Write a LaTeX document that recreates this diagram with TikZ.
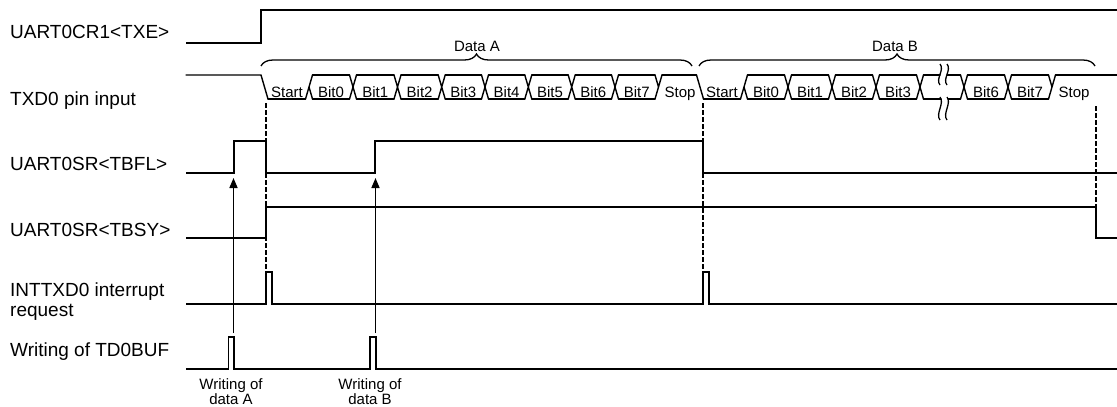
\documentclass[tikz,border=0pt]{standalone}
\usepackage{fontspec}
\setmainfont{Liberation Sans}
\usetikzlibrary{decorations.pathreplacing,arrows.meta}
\begin{document}
\begin{tikzpicture}[x=1pt,y=-1pt,
  sig/.style={line width=1.8pt},
  bus/.style={line width=1.4pt, line cap=round},
  brk/.style={line width=1.3pt},
  guide/.style={line width=1.4pt, dash pattern=on 4.5pt off 2.5pt},
  lbl/.style={font=\fontsize{19}{20}\selectfont, anchor=base west, inner sep=0pt},
  bitlbl/.style={font=\fontsize{15}{16}\selectfont, anchor=base, inner sep=0pt},
  wlbl/.style={font=\fontsize{15}{15}\selectfont, anchor=base, inner sep=0pt},
  arr/.style={line width=1.6pt, -{Triangle[length=10pt,width=8pt]}},
  brc/.style={line width=1.3pt, decorate, decoration={brace, amplitude=12pt}}
]
\useasboundingbox (0,0) rectangle (1117,407);

% signal names
\node[lbl] (lTXE) at (10,38) {UART0CR1<TXE>};
\node[lbl] (lTXD) at (10,105) {TXD0 pin input};
\node[lbl] (lTBFL) at (10,170) {UART0SR<TBFL>};
\node[lbl] (lTBSY) at (10,236.5) {UART0SR<TBSY>};
\node[lbl] (lINT1) at (10,296.5) {INTTXD0 interrupt};
\node[lbl] (lINT2) at (10,316.5) {request};
\node[lbl] (lBUF) at (10,356.5) {Writing of TD0BUF};

% simple waveforms
\draw[sig] (186,43) -- (261,43) -- (261,10) -- (1117,10);
\draw[sig] (186,173) -| (234,141) -| (266,173) -| (375,141) -| (703,173) -- (1117,173);
\draw[sig] (186,238) -| (266,207) -| (1096,238) -- (1117,238);
\draw[sig] (186,304) -| (266,272) -| (272,304) -| (703,272) -| (709,304) -- (1117,304);
\draw[sig] (186,369) -| (228.5,337) -| (234,369) -| (370,337) -| (376,369) -- (1117,369);

% TXD0 bus: idle and falling edges
\draw[bus] (186,75) -- (261,75) -- (268,99);
\draw[bus] (696.5,75) -- (703.5,99);
\draw[bus] (1055.5,75) -- (1117,75);
% top lines
\foreach \a/\b in {309/353,353/397.5,397.5/441.7,441.7/485,485/528.3,528.3/571.7,571.7/615,615/658.5,658.5/700,
                   744/788,788/832,832/876,876/920,964/1008,1008/1052}
  \draw[bus] (\a+3.5,75) -- (\b-3.5,75);
% bottom lines
\foreach \a/\b in {264.5/309,309/353,353/397.5,397.5/441.7,441.7/485,485/528.3,528.3/571.7,571.7/615,615/658.5,
                   700/744,744/788,788/832,832/876,876/920,964/1008,1008/1052}
  \draw[bus] (\a+3.5,99) -- (\b-3.5,99);
% full crossings
\foreach \c in {353,397.5,441.7,485,528.3,571.7,615,788,832,876,920,964,1008}
  \draw[bus] (\c-3.5,75) -- (\c+3.5,99) (\c-3.5,99) -- (\c+3.5,75);
% start bit to bit0
\foreach \c in {309,744}
  \draw[bus] (\c-3.5,99) -- (\c+3.5,75) (\c,87) -- (\c+3.5,99);
% bit7 to stop bit
\foreach \c in {658.5,1052}
  \draw[bus] (\c-3.5,99) -- (\c+3.5,75) (\c-3.5,75) -- (\c,87);
% omitted bits (break)
\draw[bus] (923.5,75) -- (940,75) (947,75) -- (960.5,75);
\draw[bus] (923.5,99) -- (941,99) (948,99) -- (960.5,99);
\foreach \x in {940,947} {
  \draw[brk] (\x,64) .. controls (\x+5,70) and (\x-5,79) .. (\x,85);
  \draw[brk] (\x,97) .. controls (\x+5,103) and (\x-5,114) .. (\x,120);
}

% bit labels
\foreach \x/\t [count=\i] in {287/Start,331/Bit0,375.2/Bit1,419.6/Bit2,463.3/Bit3,506.6/Bit4,550/Bit5,593.3/Bit6,636.8/Bit7,680/Stop}
  \node[bitlbl] (a\i) at (\x,97) {\t};
\foreach \x/\t [count=\i] in {722/Start,766/Bit0,810/Bit1,854/Bit2,898/Bit3,986/Bit6,1030/Bit7,1074/Stop}
  \node[bitlbl] (b\i) at (\x,97) {\t};

% braces
\draw[brc] (261,66) -- (692,66);
\draw[brc] (699,66) -- (1095,66);
\node[bitlbl] (dA) at (477,51) {Data A};
\node[bitlbl] (dB) at (895,51) {Data B};

% dashed guides
\draw[guide] (266,103) -- (266,272);
\draw[guide] (703,103) -- (703,272);
\draw[guide] (1096,106) -- (1096,207);

% write arrows
\coordinate (wA) at (233.5,333);
\coordinate (fA) at (233.5,178);
\coordinate (wB) at (375.5,333);
\coordinate (fB) at (375.5,178);
\draw[arr] (wA) -- (fA);
\draw[arr] (wB) -- (fB);

% write labels
\node[wlbl] (wa1) at (231,389) {Writing of};
\node[wlbl] (wa2) at (231,404) {data A};
\node[wlbl] (wb1) at (370,389) {Writing of};
\node[wlbl] (wb2) at (370,404) {data B};
\end{tikzpicture}
\end{document}
